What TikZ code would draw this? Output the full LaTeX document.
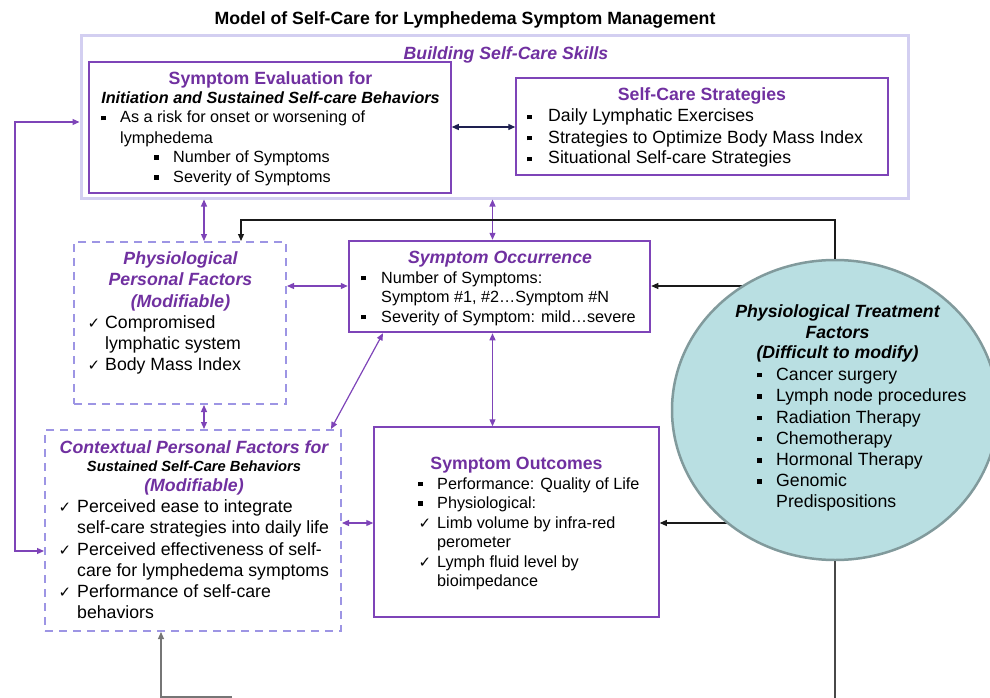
\documentclass[tikz,border=0pt]{standalone}
\usepackage{fontspec}
\setmainfont{Liberation Sans}
\newfontfamily\symfont{DejaVu Sans}
\usetikzlibrary{arrows.meta,shapes.geometric,backgrounds}
\definecolor{ptext}{HTML}{7030A0}
\definecolor{pbox}{HTML}{7E44B8}
\definecolor{outerc}{HTML}{D3CFF1}
\definecolor{dashc}{HTML}{9D95E4}
\definecolor{navyc}{HTML}{1E2050}
\definecolor{circfill}{HTML}{B9DFE2}
\definecolor{circline}{HTML}{819A9C}
\definecolor{blk}{HTML}{1A1A1A}
\newcommand\fA{\fontsize{17.7pt}{21pt}\selectfont}
\newcommand\fB{\fontsize{16.2pt}{20pt}\selectfont}
\newcommand\fC{\fontsize{14.7pt}{18pt}\selectfont}
\newcommand\mybul{\llap{\rule[2.6pt]{4.8pt}{4.8pt}\hspace{14pt}}}
\newcommand\mychk[1]{\llap{{\symfont\fontsize{15pt}{15pt}\selectfont ✓}\hspace{#1}}}
\begin{document}
\begin{tikzpicture}[x=1pt,y=-1pt,
  txt/.style={inner sep=0pt, font=\fA, text=black},
  ptitle/.style={inner sep=0pt, font=\fA\bfseries, text=ptext},
  pititle/.style={inner sep=0pt, font=\fA\bfseries\itshape, text=ptext},
  solidbox/.style={draw=pbox, line width=1.5pt, rectangle, inner sep=0pt},
  dashbox/.style={draw=dashc, line width=2pt, dash pattern=on 8pt off 6pt, rectangle, inner sep=0pt},
  parr/.style={draw=pbox, line width=1.2pt, {Triangle[length=7pt,width=6pt]}-{Triangle[length=7pt,width=6pt]}},
  narr/.style={draw=navyc, line width=1.3pt, {Triangle[length=7pt,width=6pt]}-{Triangle[length=7pt,width=6pt]}},
  barr/.style={draw=blk, line width=1.1pt, -{Triangle[length=7pt,width=6pt]}},
  bline/.style={draw=blk!80, line width=1.1pt}
]
\useasboundingbox (0,0) rectangle (990,698);
\clip (0,0) rectangle (990,698);

% title
\node[inner sep=0pt, font=\fA\bfseries, anchor=base] (title) at (465,25) {Model of Self-Care for Lymphedema Symptom Management};

% outer box
\node[draw=outerc, line width=3pt, rectangle, inner sep=0pt, minimum width=827pt, minimum height=162pt] (outer) at (494.5,117) {};
\node[pititle, anchor=base] (outerlbl) at (506,59.5) {Building Self-Care Skills};

% symptom evaluation box
\node[solidbox, minimum width=362pt, minimum height=131pt] (eval) at (270,127.5) {};
\node[ptitle, anchor=base] (e0) at (270.5,85) {Symptom Evaluation for};
\node[inner sep=0pt, font=\fB\bfseries\itshape, anchor=base] (e1) at (270.5,104) {Initiation and Sustained Self-care Behaviors};
\node[txt, font=\fB, anchor=base west] (e2) at (120,123) {\mybul As a risk for onset or worsening of};
\node[txt, font=\fB, anchor=base west] (e3) at (120,143) {lymphedema};
\node[txt, font=\fB, anchor=base west] (e4) at (173,162.5) {\mybul Number of Symptoms};
\node[txt, font=\fB, anchor=base west] (e5) at (173,182.5) {\mybul Severity of Symptoms};

% self-care strategies
\node[solidbox, minimum width=372pt, minimum height=97pt] (strat) at (702,126.5) {};
\node[ptitle, anchor=base] (s0) at (702,101) {Self-Care Strategies};
\node[txt, anchor=base west] (s1) at (548,122) {\llap{\rule[2.6pt]{4.8pt}{4.8pt}\hspace{16pt}}Daily Lymphatic Exercises};
\node[txt, anchor=base west] (s2) at (548,143) {\llap{\rule[2.6pt]{4.8pt}{4.8pt}\hspace{16pt}}Strategies to Optimize Body Mass Index};
\node[txt, anchor=base west] (s3) at (548,164) {\llap{\rule[2.6pt]{4.8pt}{4.8pt}\hspace{16pt}}Situational Self-care Strategies};

% physiological personal factors
\node[dashbox, minimum width=212pt, minimum height=162pt] (physP) at (180,323) {};
\node[pititle, anchor=base] (p0) at (180.5,264) {Physiological};
\node[pititle, anchor=base] (p1) at (180.5,285.5) {Personal Factors};
\node[pititle, anchor=base] (p2) at (180.5,307) {(Modifiable)};
\node[txt, anchor=base west] (p3) at (105,328) {\mychk{5pt}Compromised};
\node[txt, anchor=base west] (p4) at (105,349) {lymphatic system};
\node[txt, anchor=base west] (p5) at (105,370.5) {\mychk{5pt}Body Mass Index};

% symptom occurrence
\node[draw=pbox, line width=2.5pt, rectangle, inner sep=0pt, minimum width=301pt, minimum height=91pt] (occ) at (499.5,286.5) {};
\node[pititle, anchor=base] (o0) at (500,263) {Symptom Occurrence};
\node[txt, font=\fB, anchor=base west] (o1) at (381,283) {\llap{\rule[2.6pt]{4.8pt}{4.8pt}\hspace{15pt}}Number of Symptoms:};
\node[txt, font=\fB, anchor=base west] (o2) at (381,302.5) {Symptom \#1, \#2…Symptom \#N};
\node[txt, font=\fB, anchor=base west] (o3) at (381,322) {\llap{\rule[2.6pt]{4.8pt}{4.8pt}\hspace{15pt}}Severity of Symptom: mild…severe};

% contextual personal factors
\node[dashbox, minimum width=296pt, minimum height=201pt] (ctx) at (193,530.5) {};
\node[pititle, anchor=base] (c0) at (194,453) {Contextual Personal Factors for};
\node[inner sep=0pt, font=\fC\bfseries\itshape, anchor=base] (c1) at (194,471) {Sustained Self-Care Behaviors};
\node[pititle, anchor=base] (c2) at (194,491.5) {(Modifiable)};
\node[txt, anchor=base west] (c3) at (77,512) {\mychk{6pt}Perceived ease to integrate};
\node[txt, anchor=base west] (c4) at (77,533) {self-care strategies into daily life};
\node[txt, anchor=base west] (c5) at (77,555.5) {\mychk{6pt}Perceived effectiveness of self-};
\node[txt, anchor=base west] (c6) at (77,576) {care for lymphedema symptoms};
\node[txt, anchor=base west] (c7) at (77,597) {\mychk{6pt}Performance of self-care};
\node[txt, anchor=base west] (c8) at (77,618) {behaviors};

% symptom outcomes
\node[solidbox, minimum width=285pt, minimum height=190pt] (out) at (516.5,522) {};
\node[ptitle, anchor=base] (u0) at (516.5,469) {Symptom Outcomes};
\node[txt, font=\fB, anchor=base west] (u1) at (437,489) {\mybul Performance: Quality of Life};
\node[txt, font=\fB, anchor=base west] (u2) at (437,508.5) {\mybul Physiological:};
\node[txt, font=\fB, anchor=base west] (u3) at (437,528) {\mychk{6pt}Limb volume by infra-red};
\node[txt, font=\fB, anchor=base west] (u4) at (437,547.5) {perometer};
\node[txt, font=\fB, anchor=base west] (u5) at (437,567) {\mychk{6pt}Lymph fluid level by};
\node[txt, font=\fB, anchor=base west] (u6) at (437,586.5) {bioimpedance};

% treatment circle
\node[ellipse, draw=circline, line width=2.5pt, fill=circfill, minimum width=326pt, minimum height=300pt, inner sep=0pt] (circ) at (835,410) {};
\node[inner sep=0pt, font=\fA\bfseries\itshape, anchor=base] (r0) at (837.5,317) {Physiological Treatment};
\node[inner sep=0pt, font=\fA\bfseries\itshape, anchor=base] (r1) at (837.5,338) {Factors};
\node[inner sep=0pt, font=\fA\bfseries\itshape, anchor=base] (r2) at (837.5,358.5) {(Difficult to modify)};
\node[txt, anchor=base west] (r3) at (776,380) {\mybul Cancer surgery};
\node[txt, anchor=base west] (r4) at (776,401.5) {\mybul Lymph node procedures};
\node[txt, anchor=base west] (r5) at (776,423) {\mybul Radiation Therapy};
\node[txt, anchor=base west] (r6) at (776,444) {\mybul Chemotherapy};
\node[txt, anchor=base west] (r7) at (776,465.5) {\mybul Hormonal Therapy};
\node[txt, anchor=base west] (r8) at (776,486.5) {\mybul Genomic};
\node[txt, anchor=base west] (r9) at (776,507.5) {Predispositions};

% helper coordinates
\coordinate (L1) at (15,122);
\coordinate (L2) at (15,551);
\coordinate (X204) at (204,0);
\coordinate (X492) at (492.5,0);
\coordinate (X383) at (383,0);
\coordinate (X331) at (331,0);
\coordinate (Y286) at (0,286);
\coordinate (Y523) at (0,523);
\coordinate (Y127) at (0,127);
\coordinate (T1) at (835,220);
\coordinate (T2) at (241,220);
\coordinate (B1) at (835,698);
\coordinate (B2) at (232,697);
\coordinate (B3) at (161,697);

% purple connectors
\draw[parr] (outer.west |- L1) -- (L1) -- (L2) -- (ctx.west |- L2);
\draw[parr] (outer.south -| X204) -- (physP.north -| X204);
\draw[parr] (outer.south -| X492) -- (occ.north -| X492);
\draw[parr] (physP.east |- Y286) -- (occ.west |- Y286);
\draw[parr] (physP.south -| X204) -- (ctx.north -| X204);
\draw[parr] (occ.south -| X383) -- (ctx.north -| X331);
\draw[parr] (occ.south -| X492) -- (out.north -| X492);
\draw[parr] (ctx.east |- Y523) -- (out.west |- Y523);
% navy connector
\draw[narr] (eval.east |- Y127) -- (strat.west |- Y127);
% black connectors from the treatment circle
\draw[barr] (circ.north) -- (T1) -- (T2) -- (physP.north -| T2);
\begin{scope}[on background layer]
\draw[barr] (circ.center |- Y286) -- (occ.east |- Y286);
\draw[barr] (circ.center |- Y523) -- (out.east |- Y523);
\end{scope}
\draw[bline] (circ.south) -- (B1);
\draw[barr, draw=blk!60] (B2) -- (B3) -- (ctx.south -| B3);
\end{tikzpicture}
\end{document}
